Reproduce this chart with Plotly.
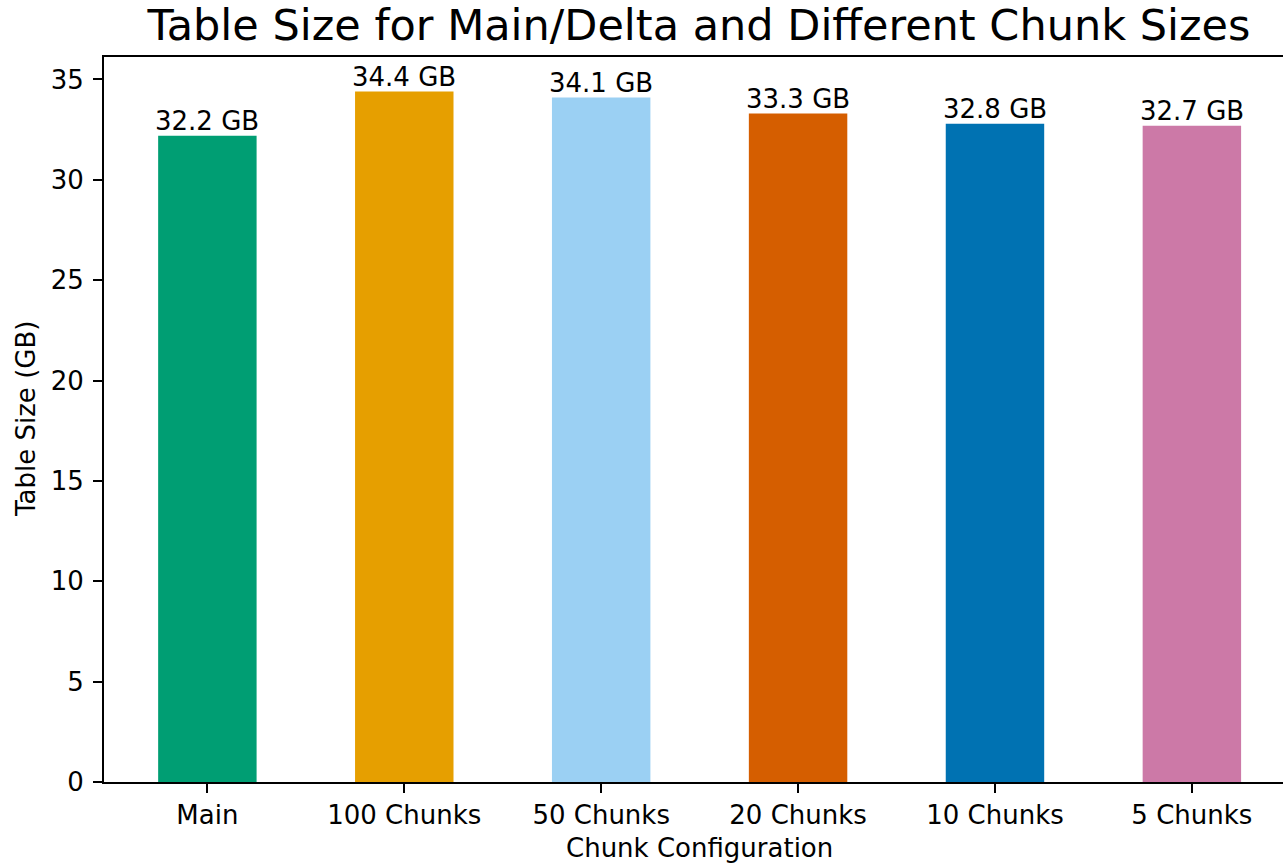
import plotly.graph_objects as go

# Table size per storage configuration
configs = ["Main", "100 Chunks", "50 Chunks", "20 Chunks", "10 Chunks", "5 Chunks"]
sizes_gb = [32.2, 34.4, 34.1, 33.3, 32.8, 32.7]
bar_colors = ["#009E73", "#E69F00", "#9BD0F3", "#D55E00", "#0072B2", "#CC79A7"]
y_ticks = [0, 5, 10, 15, 20, 25, 30, 35]

FONT = "DejaVu Sans"
W, H = 1283, 864
M_L, M_R, M_T, M_B = 104, 0, 57, 82
plot_w = W - M_L - M_R
px_per_cat = 196.9
x_lo = -0.525
x_hi = x_lo + plot_w / px_per_cat
y_hi = max(sizes_gb) * 1.05

fig = go.Figure()
fig.add_trace(go.Bar(
    x=list(range(len(configs))),
    y=sizes_gb,
    width=0.5,
    marker=dict(color=bar_colors, line=dict(width=0)),
    hoverinfo="skip",
))

# value labels above each bar
for i, v in enumerate(sizes_gb):
    fig.add_annotation(
        x=i, y=v, xref="x", yref="y",
        text=f"{v} GB", showarrow=False,
        xanchor="center", yanchor="bottom", yshift=-2,
        font=dict(family=FONT, size=26, color="black"),
    )

# axis titles
fig.add_annotation(
    x=(25.5 - M_L) / plot_w, y=0.5, xref="paper", yref="paper",
    text="Table Size (GB)", textangle=-90, showarrow=False,
    xanchor="center", yanchor="middle",
    font=dict(family=FONT, size=26, color="black"),
)
fig.add_annotation(
    x=(699 - M_L) / plot_w, y=-(848 - (H - M_B)) / (H - M_T - M_B),
    xref="paper", yref="paper",
    text="Chunk Configuration", showarrow=False,
    xanchor="center", yanchor="middle",
    font=dict(family=FONT, size=26, color="black"),
)

fig.update_layout(
    width=W, height=H,
    margin=dict(l=M_L, r=M_R, t=M_T, b=M_B, pad=0),
    paper_bgcolor="white", plot_bgcolor="white",
    showlegend=False,
    font=dict(family=FONT, size=26, color="black"),
    title=dict(
        text="Table Size for Main/Delta and Different Chunk Sizes",
        x=699 / W, xanchor="center", xref="container",
        y=1 - 25.2 / H, yanchor="middle", yref="container",
        font=dict(family=FONT, size=43, color="black"),
    ),
    xaxis=dict(
        range=[x_lo, x_hi],
        tickmode="array",
        tickvals=list(range(len(configs))),
        ticktext=configs,
        ticks="outside", ticklen=9, tickwidth=2, tickcolor="black",
        showline=True, linewidth=2, linecolor="black", mirror=True,
        showgrid=False, zeroline=False,
        tickfont=dict(family=FONT, size=26, color="black"),
    ),
    yaxis=dict(
        range=[0, y_hi],
        tickmode="array",
        tickvals=y_ticks,
        ticks="outside", ticklen=9, tickwidth=2, tickcolor="black",
        showline=True, linewidth=2, linecolor="black", mirror=False,
        showgrid=False, zeroline=False,
        tickfont=dict(family=FONT, size=26, color="black"),
        ticklabelstandoff=4,
    ),
)

fig.write_html("out.html")
